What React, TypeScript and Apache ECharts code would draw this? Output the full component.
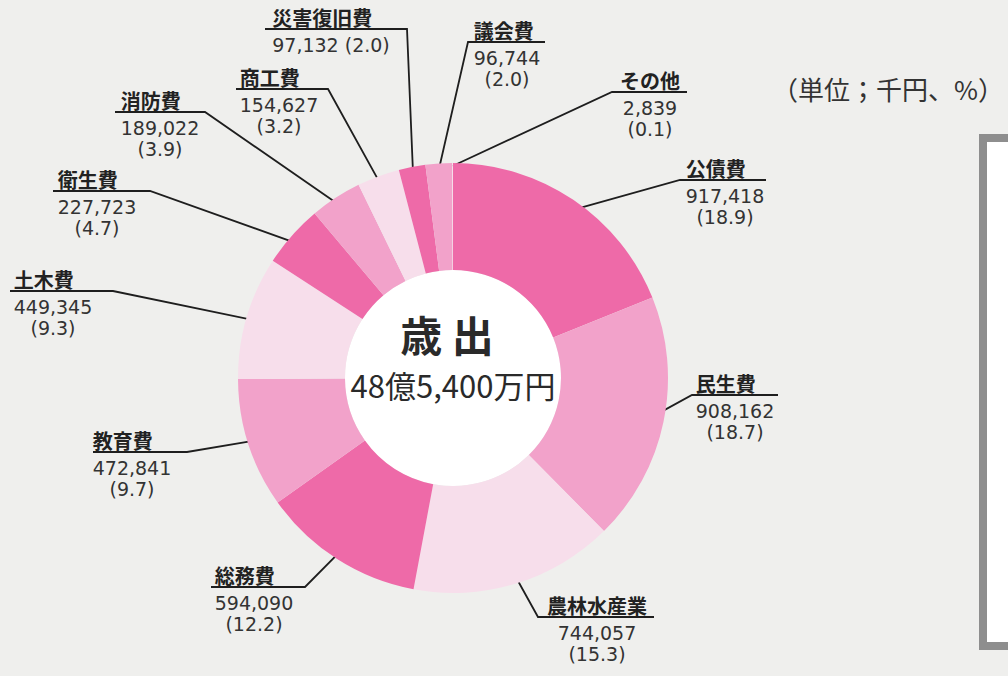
import React, { useEffect, useRef } from "react";
import * as echarts from "echarts";

// ---- data (thousand yen) ----
const categories = [
  "公債費",
  "民生費",
  "農林水産業",
  "総務費",
  "教育費",
  "土木費",
  "衛生費",
  "消防費",
  "商工費",
  "災害復旧費",
  "議会費",
  "その他",
];
const amounts = [
  917418, 908162, 744057, 594090, 472841, 449345, 227723, 189022, 154627,
  97132, 96744, 2839,
];
const centerTitle = "歳 出";
const centerTotal = "48億5,400万円";
const unitNote = "（単位；千円、%）";

// ---- styling / layout (not data) ----
const palette = ["#ee6aa8", "#f2a2ca", "#f7deeb"];
const CX = 453;
const CY = 378;
const R_IN = 108;
const R_OUT = 215;

// label placements: block centre x, underline y, underline span, which end joins the leader, leader tip radius
const labelSpots = [
  { tx: 725, uy: 180, u0: 680, u1: 766, join: "left", tip: 200 },
  { tx: 735, uy: 395, u0: 692, u1: 778, join: "left", tip: 200 },
  { tx: 597, uy: 617, u0: 538, u1: 654, join: "left", tip: 200 },
  { tx: 254, uy: 587, u0: 211, u1: 305, join: "right", tip: 200 },
  { tx: 132, uy: 452, u0: 93, u1: 187, join: "right", tip: 200 },
  { tx: 53, uy: 291, u0: 10, u1: 113, join: "right", tip: 200 },
  { tx: 97, uy: 191, u0: 53, u1: 150, join: "right", tip: 200 },
  { tx: 160, uy: 112, u0: 115, u1: 205, join: "right", tip: 205 },
  { tx: 279, uy: 89, u0: 236, u1: 328, join: "right", tip: 203 },
  { tx: 331, uy: 29, u0: 265, u1: 407, join: "right", tip: 210, oneLine: true },
  { tx: 507, uy: 42, u0: 468, u1: 545, join: "left", tip: 210 },
  { tx: 650, uy: 92, u0: 612, u1: 687, join: "left", tip: 212 },
];

const total = amounts.reduce((a, b) => a + b, 0);

function midAngle(i: number) {
  let before = 0;
  for (let k = 0; k < i; k++) before += amounts[k];
  return ((before + amounts[i] / 2) / total) * Math.PI * 2;
}

export default function App() {
  const ref = useRef<HTMLDivElement>(null);

  useEffect(() => {
    if (!ref.current) return;
    const chart = echarts.init(ref.current, undefined, { renderer: "svg" });

    const option: any = {
      animation: false,
      backgroundColor: "#efefed",
      color: palette,
      graphic: [
        {
          type: "rect",
          shape: { x: 983, y: 138, width: 40, height: 508 },
          style: { fill: "#ffffff", stroke: "#8e8e8e", lineWidth: 8 },
          z: 0,
        },
        {
          type: "circle",
          shape: { cx: CX, cy: CY, r: R_IN },
          style: { fill: "#ffffff" },
          z: 0,
        },
        {
          type: "text",
          x: 447,
          y: 333,
          style: {
            text: centerTitle,
            fontSize: 42,
            fontWeight: "bold",
            fontFamily: '"Noto Sans CJK JP"',
            fill: "#2a2a2a",
            align: "center",
            verticalAlign: "middle",
          },
          z: 10,
        },
        {
          type: "text",
          x: 453,
          y: 384,
          style: {
            text: centerTotal,
            fontSize: 31,
            fontFamily: '"Noto Sans CJK JP"',
            fill: "#2a2a2a",
            align: "center",
            verticalAlign: "middle",
          },
          z: 10,
        },
        {
          type: "text",
          x: 1004,
          y: 88,
          style: {
            text: unitNote,
            fontSize: 26,
            fontFamily: '"Noto Sans CJK JP"',
            fill: "#333333",
            align: "right",
            verticalAlign: "middle",
          },
          z: 10,
        },
      ],
      series: [
        {
          type: "pie",
          center: [CX, CY],
          radius: [R_IN, R_OUT],
          startAngle: 90,
          clockwise: true,
          avoidLabelOverlap: false,
          silent: true,
          data: categories.map((name, i) => ({ name, value: amounts[i] })),
          label: {
            show: true,
            position: "outside",
            formatter: (p: any) => {
              const pct = ((p.value / total) * 100).toFixed(1);
              const v = Number(p.value).toLocaleString("en-US");
              const spot = labelSpots[p.dataIndex];
              return spot.oneLine
                ? `{n|${p.name}}\n{v|${v} (${pct})}`
                : `{n|${p.name}}\n{v|${v}}\n{v|(${pct})}`;
            },
            rich: {
              n: {
                fontSize: 20,
                fontWeight: "bold",
                fontFamily: '"Noto Sans CJK JP"',
                color: "#222222",
                lineHeight: 34,
                align: "left",
              },
              v: {
                fontSize: 19,
                fontFamily: '"DejaVu Sans"',
                color: "#333333",
                lineHeight: 21,
                align: "center",
              },
            },
          },
          labelLine: {
            show: true,
            smooth: false,
            lineStyle: { color: "#1e1e1e", width: 1.8 },
          },
          labelLayout: (params: any) => {
            const i = params.dataIndex;
            const s = labelSpots[i];
            const a = midAngle(i);
            const tip = [CX + s.tip * Math.sin(a), CY - s.tip * Math.cos(a)];
            const near = s.join === "left" ? s.u0 : s.u1;
            const far = s.join === "left" ? s.u1 : s.u0;
            return {
              x: s.tx,
              y: s.uy - 29,
              align: "center",
              verticalAlign: "top",
              labelLinePoints: [tip, [near, s.uy], [far, s.uy]],
            };
          },
        },
      ],
    };

    chart.setOption(option);
    return () => chart.dispose();
  }, []);

  return (
    <div
      ref={ref}
      style={{
        position: "fixed",
        left: 0,
        top: 0,
        width: 1008,
        height: 676,
      }}
    />
  );
}
